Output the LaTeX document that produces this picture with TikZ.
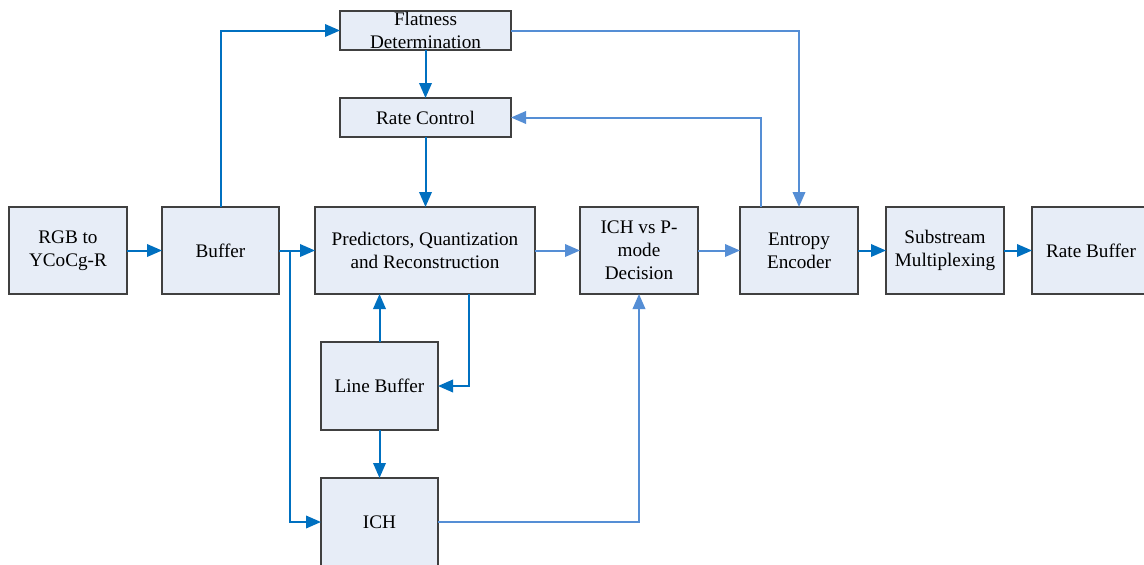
\documentclass[tikz,border=0pt]{standalone}
\usepackage{fontspec}
\setmainfont{Liberation Serif}
\usetikzlibrary{arrows.meta}
\definecolor{flowdark}{HTML}{0070C0}
\definecolor{flowlight}{HTML}{558ED5}
\definecolor{boxfill}{HTML}{E7EDF7}
\definecolor{boxline}{HTML}{404040}
\begin{document}
\begin{tikzpicture}[x=1pt,y=-1pt,
  block/.style={draw=boxline, fill=boxfill, line width=1.5pt, inner sep=0pt,
    outer sep=0pt, align=center, font=\fontsize{19.2}{23}\selectfont},
  dk/.style={draw=flowdark, line width=2pt, -{Triangle[length=15pt,width=12.5pt]}},
  lt/.style={draw=flowlight, line width=2pt, -{Triangle[length=15pt,width=12.5pt]}}]
\useasboundingbox[fill=white] (0,0) rectangle (1144,565);

% main row
\node[block, minimum width=118, minimum height=87] (rgb) at (68,250.5) {RGB to\\YCoCg-R};
\node[block, minimum width=117, minimum height=87] (buf) at (220.5,250.5) {Buffer};
\node[block, minimum width=220, minimum height=87] (pred) at (425,250.5) {Predictors, Quantization\\and Reconstruction};
\node[block, minimum width=118, minimum height=87] (dec) at (639,250.5) {ICH vs P-\\mode\\Decision};
\node[block, minimum width=118, minimum height=87] (ent) at (799,250.5) {Entropy\\Encoder};
\node[block, minimum width=118, minimum height=87] (mux) at (945,250.5) {Substream\\Multiplexing};
\node[block, minimum width=118, minimum height=87] (rbuf) at (1091,250.5) {Rate Buffer};

% upper column
\node[block, minimum width=171, minimum height=39] (flat) at (425.5,30.5) {Flatness\\Determination};
\node[block, minimum width=171, minimum height=39] (rc) at (425.5,117.5) {Rate Control};

% lower column
\node[block, minimum width=117, minimum height=88] (lb) at (379.5,386) {Line Buffer};
\node[block, minimum width=117, minimum height=88] (ich) at (379.5,522) {ICH};

% helper points
\coordinate (split) at (290,250.5);
\coordinate (lbret) at (469,386);
\coordinate (rcfb) at (761,118);

% dark connectors
\draw[dk] (rgb.east) -- (buf.west);
\draw[dk] (buf.north) |- (flat.west);
\draw[dk] (buf.east) -- (pred.west);
\draw[dk] (split) |- (ich.west);
\draw[dk] (flat.south) -- (rc.north);
\draw[dk] (rc.south) -- (rc.south |- pred.north);
\draw[dk] (lb.north) -- (lb.north |- pred.south);
\draw[dk] (pred.south -| lbret) |- (lb.east);
\draw[dk] (lb.south) -- (ich.north);
\draw[dk] (ent.east) -- (mux.west);
\draw[dk] (mux.east) -- (rbuf.west);

% light connectors
\draw[lt] (ich.east) -| (dec.south);
\draw[lt] (pred.east) -- (dec.west);
\draw[lt] (dec.east) -- (ent.west);
\draw[lt] (ent.north -| rcfb) |- (rc.east);
\draw[lt] (flat.east) -| (ent.north);
\end{tikzpicture}
\end{document}
